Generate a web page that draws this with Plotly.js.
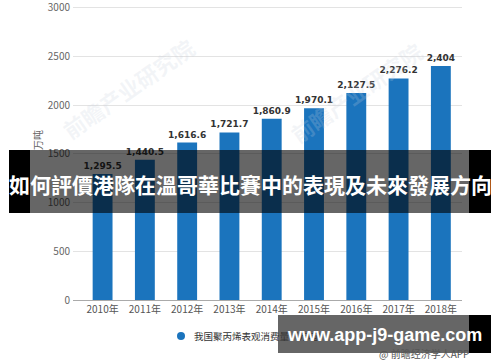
<!DOCTYPE html>
<html>
<head>
<meta charset="utf-8">
<script src="https://cdn.plot.ly/plotly-3.0.1.min.js"></script>
<style>
html,body{margin:0;padding:0;background:#fff;}
#chart{width:500px;height:362px;}
</style>
</head>
<body>
<div id="chart"></div>
<script>
// ---- data ----
const years = ["2010年","2011年","2012年","2013年","2014年","2015年","2016年","2017年","2018年"];
const consumption = [1295.5, 1440.5, 1616.6, 1721.7, 1860.9, 1970.1, 2127.5, 2276.2, 2404];
const seriesName = "我国聚丙烯表观消费量（万吨）";
const yTickVals = [0, 500, 1000, 1500, 2000, 2500, 3000];
const yAxisTitle = "单位：万吨";
const bannerText = "如何評價港隊在溫哥華比賽中的表現及未來發展方向";
const siteText = "www.app-j9-game.com";
const sourceText = "@ 前瞻经济学人APP";
const watermarkText = "前瞻产业研究院";

// ---- layout helpers (pixel -> paper) ----
const W = 500, H = 362;
const ml = 73, mr = 38, mt = 6, mb = 62;
const pw = W - ml - mr, ph = H - mt - mb;
const px = x => (x - ml) / pw;
const py = y => (H - mb - y) / ph;

const labels = consumption.map(v => v.toLocaleString('en-US', {maximumFractionDigits: 1}));

const trace = {
  type: 'bar',
  x: years,
  y: consumption,
  name: seriesName,
  marker: {color: '#1b74bd'},
  width: 0.47,
  text: labels,
  textposition: 'outside',
  constraintext: 'none',
  cliponaxis: false,
  textfont: {family: 'DejaVu Sans, sans-serif', size: 9, color: '#333', weight: 'bold'},
  hoverinfo: 'skip'
};

function rect(x0, x1, y0, y1, color) {
  return {type: 'rect', xref: 'paper', yref: 'paper', x0: px(x0), x1: px(x1), y0: py(y1), y1: py(y0),
          fillcolor: color, line: {width: 0}, layer: 'above'};
}

const shapes = [
  rect(9, 30, 150, 213, '#000'),
  rect(30, 469, 150, 213, 'rgba(0,0,0,0.6)'),
  rect(469, 491, 150, 213, '#000'),
  rect(278, 469, 315, 353, 'rgba(0,0,0,0.6)'),
  rect(469, 491, 315, 353, '#000'),
  {type: 'circle', xref: 'paper', yref: 'paper', x0: px(177), x1: px(185), y0: py(340), y1: py(332),
   fillcolor: '#1b74bd', line: {width: 0}, layer: 'below'}
];

function ann(x, y, text, font, extra) {
  return Object.assign({xref: 'paper', yref: 'paper', x: px(x), y: py(y), text: text, showarrow: false,
    xanchor: 'center', yanchor: 'middle', font: font}, extra || {});
}

const wmFont = {family: 'Noto Sans CJK SC', size: 22, color: 'rgba(200,208,222,0.22)', weight: 'bold'};

const annotations = [
  ann(128, 88, watermarkText, wmFont, {textangle: -35}),
  ann(356, 92, watermarkText, wmFont, {textangle: -35}),
  ann(37, 155, yAxisTitle, {family: 'Noto Sans CJK SC', size: 10, color: '#666'}, {textangle: -90}),
  ann(192, 336, seriesName, {family: 'Noto Sans CJK SC', size: 9.5, color: '#333'}, {xanchor: 'left'}),
  ann(250, 184, bannerText, {family: 'Noto Sans CJK TC', size: 21, color: '#fff', weight: 'bold'}),
  ann(384, 335, siteText, {family: 'Liberation Sans, Arial, sans-serif', size: 18, color: '#fff', weight: 'bold'}),
  ann(424, 353, sourceText, {family: 'Noto Sans CJK SC', size: 10, color: '#555'})
];

const layout = {
  width: W, height: H,
  margin: {l: ml, r: mr, t: mt, b: mb, pad: 0},
  paper_bgcolor: '#fff', plot_bgcolor: '#fff',
  showlegend: false,
  font: {family: 'Noto Sans CJK SC', size: 10, color: '#666'},
  xaxis: {
    type: 'category', range: [-0.7, 8.5], showgrid: false, showline: true, linecolor: '#aaa', linewidth: 1,
    ticks: '', tickfont: {size: 10, color: '#555'}, fixedrange: true, zeroline: false
  },
  yaxis: {
    range: [0, 3020], tickvals: yTickVals, showgrid: true, gridcolor: '#e3e3e3', gridwidth: 1,
    zeroline: false, showline: false, ticks: '', tickfont: {size: 10, color: '#666'}, fixedrange: true,
    ticklabelstandoff: 2, ticklabeloverflow: 'allow'
  },
  shapes: shapes,
  annotations: annotations
};

Plotly.newPlot('chart', [trace], layout, {displayModeBar: false, staticPlot: true});
</script>
</body>
</html>
